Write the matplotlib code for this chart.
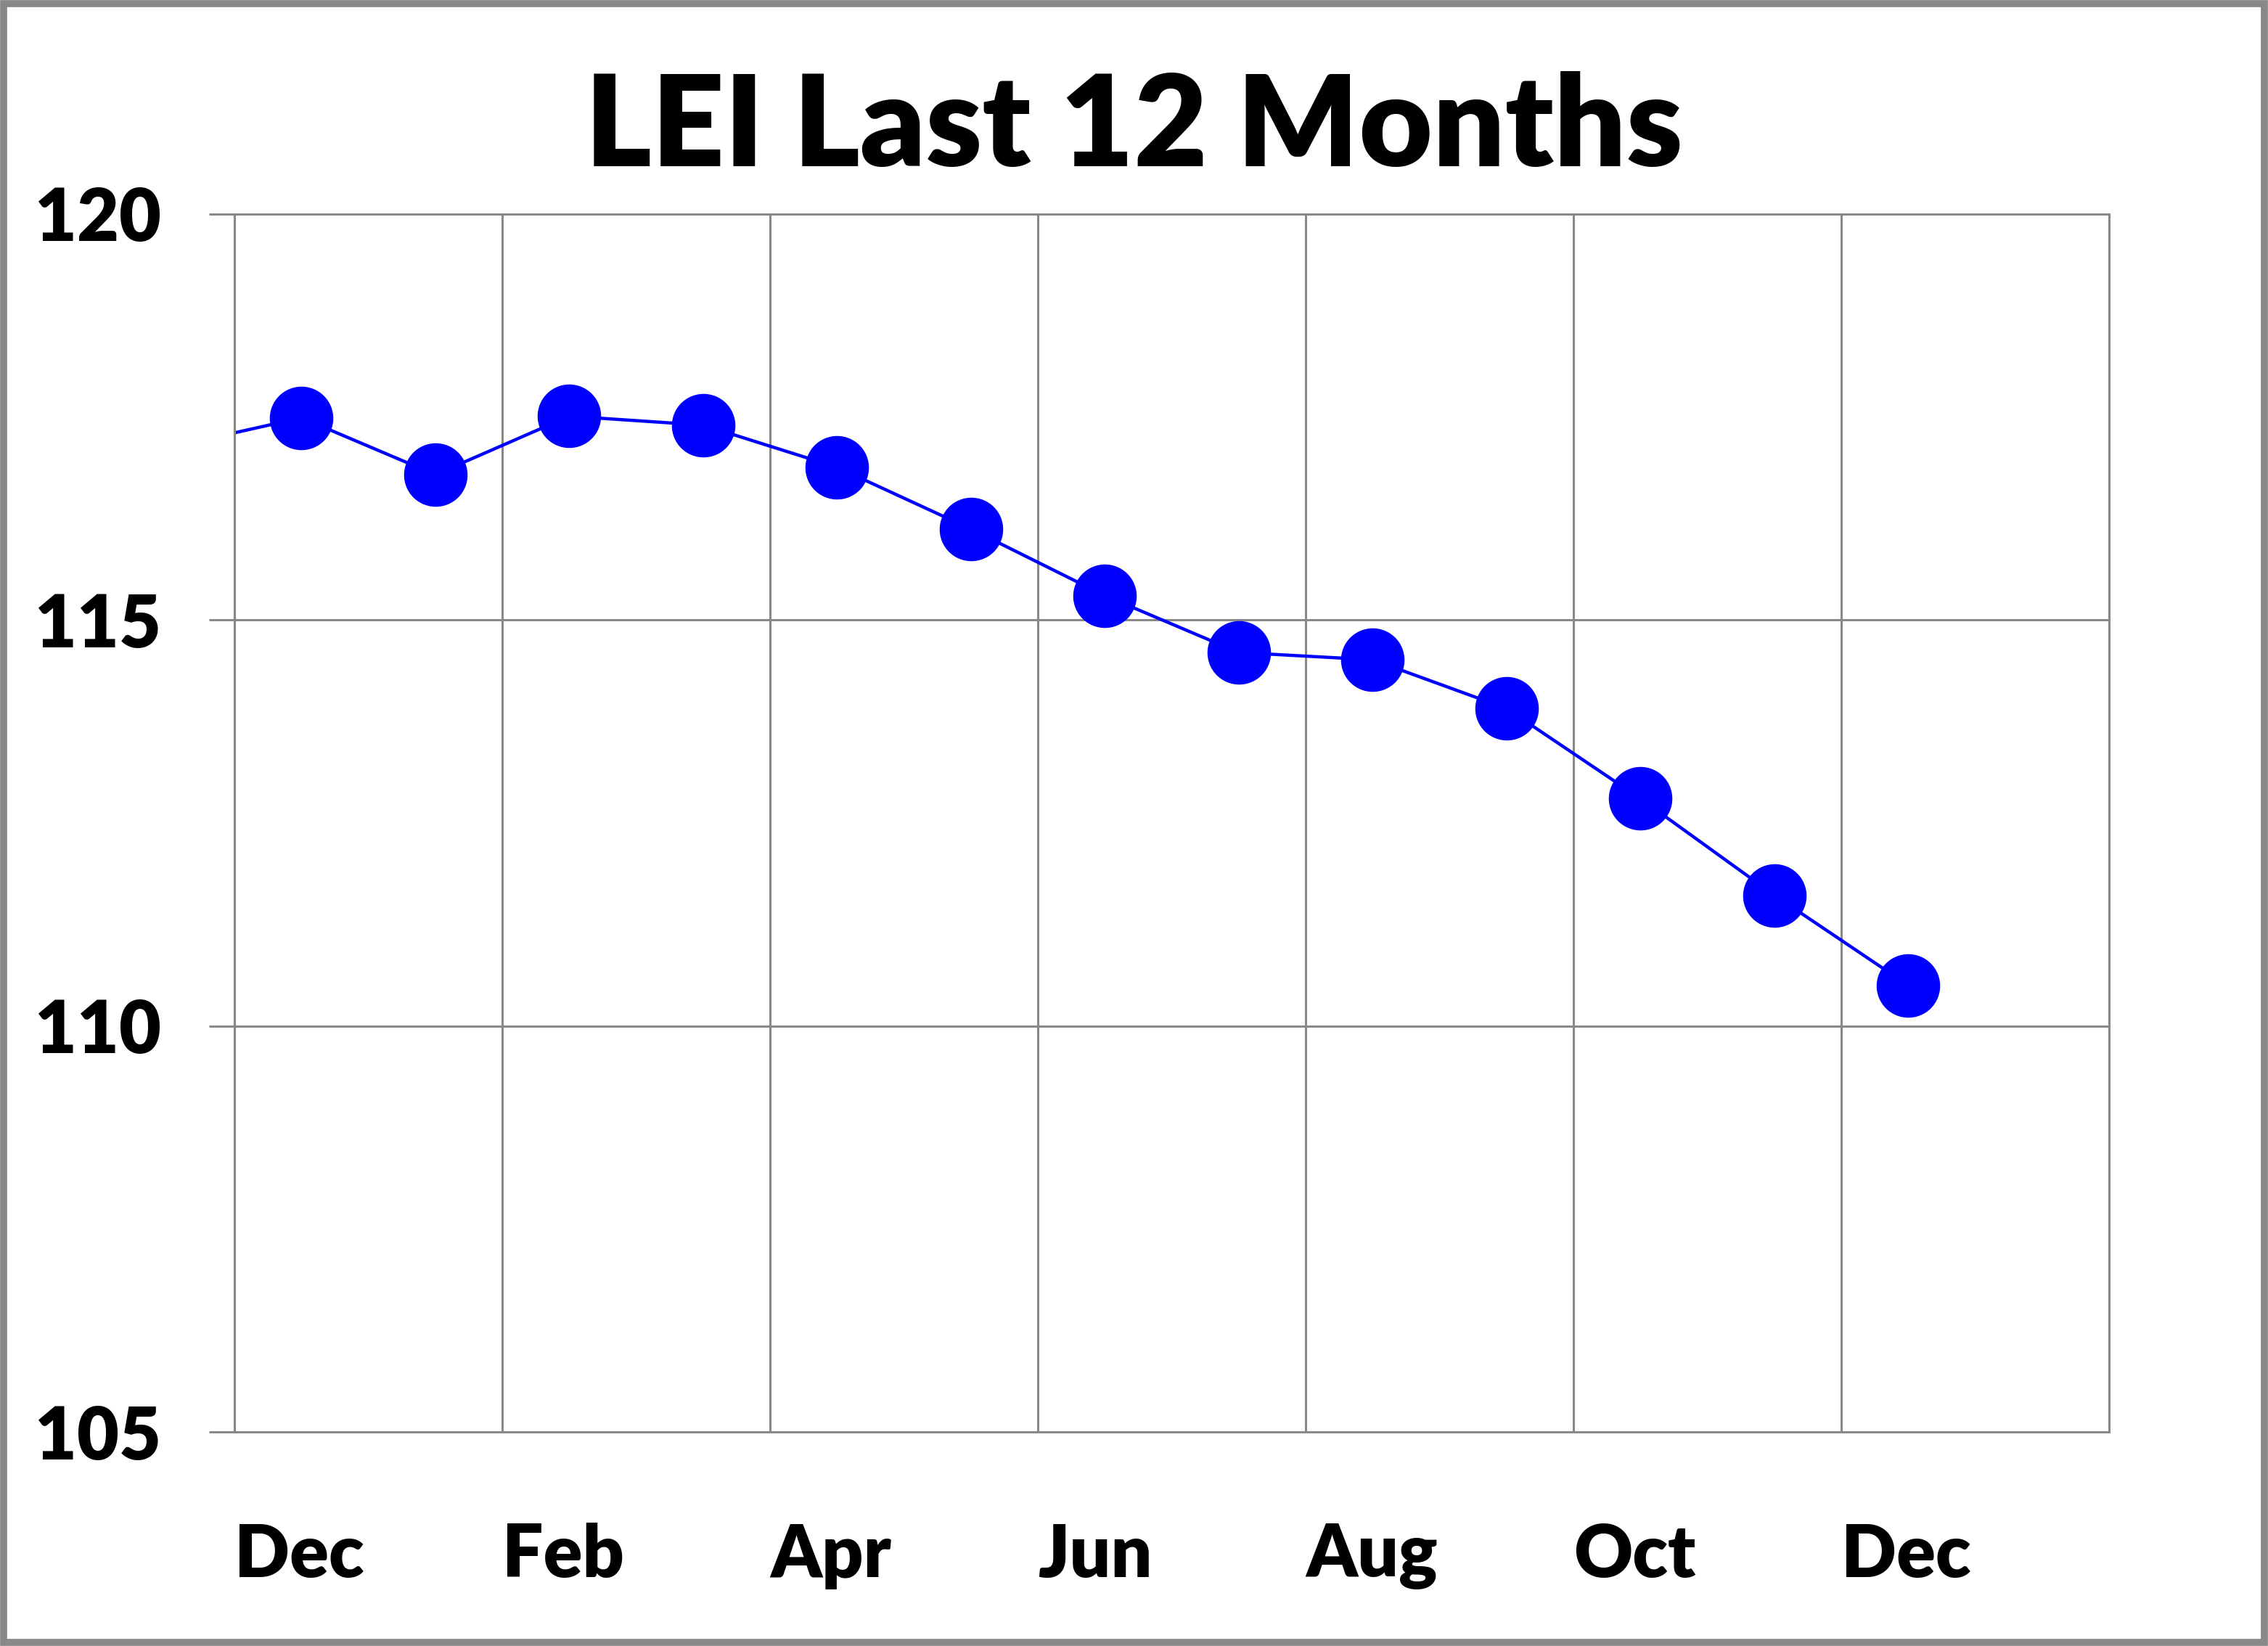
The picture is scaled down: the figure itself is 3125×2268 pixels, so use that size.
import numpy as np
from matplotlib import pyplot as plt
from matplotlib.patches import Rectangle

# data (first point is the clipped previous month)
months = ["Nov", "Dec", "Jan", "Feb", "Mar", "Apr", "May", "Jun",
          "Jul", "Aug", "Sep", "Oct", "Nov", "Dec"]
lei = [117.12, 117.49, 116.79, 117.51, 117.40, 116.88, 116.12, 115.30,
       114.60, 114.51, 113.91, 112.80, 111.61, 110.50]
tick_labels = ["Dec", "Feb", "Apr", "Jun", "Aug", "Oct", "Dec", ""]
y_ticks = [105, 110, 115, 120]

plt.rcParams['font.family'] = ['Lato', 'DejaVu Sans']
plt.rcParams['font.weight'] = 'heavy'

fig = plt.figure(figsize=(31.25, 22.68), dpi=100)
ax = fig.add_axes([0.1034, 0.130, 0.8266, 0.740])

x = np.arange(len(lei)) - 0.5
ax.plot(x, lei, color='blue', linewidth=3.2, marker='o', markersize=62,
        markerfacecolor='blue', markeredgecolor='blue', clip_on=True)

ax.set_xlim(0, 14)
ax.set_ylim(105, 120)
ax.set_xticks(np.arange(0, 15, 2))
ax.set_xticklabels(tick_labels, ha='left', fontweight='heavy')
ax.set_yticks(y_ticks)
ax.set_yticklabels([str(v) for v in y_ticks], fontweight='heavy')

grey = '#888888'
ax.grid(True, color=grey, linewidth=2.2)
ax.set_axisbelow(True)
for s in ax.spines.values():
    s.set_color(grey)
    s.set_linewidth(2.2)

ax.tick_params(axis='y', length=25, width=2.2, color=grey, pad=48,
               labelsize=72)
ax.tick_params(axis='x', length=0, pad=90, labelsize=72)

fig.text(0.5, 0.899, "LEI Last 12 Months", ha='center', va='baseline',
         fontsize=126, fontweight='heavy')

# grey frame around the whole picture
fig.patches.append(Rectangle((0.0015, 0.002), 0.997, 0.996,
                             transform=fig.transFigure, fill=False,
                             edgecolor=grey, linewidth=7))

fig.savefig("out.png", dpi=100)
